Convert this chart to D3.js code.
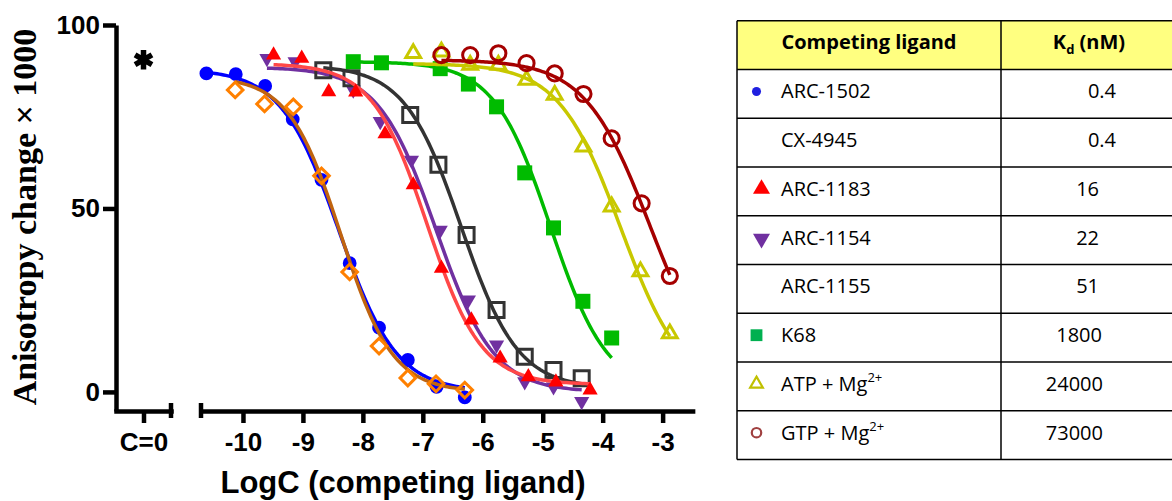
<!DOCTYPE html>
<html>
<head>
<meta charset="utf-8">
<script src="https://cdn.jsdelivr.net/npm/d3@7"></script>
<style>
  body { margin: 0; background: #fff; }
  svg { display: block; }
  .axisText { font-family: "Liberation Sans", Arial, sans-serif; font-weight: bold; fill: #000; }
  .tableText { font-family: "Open Sans", "Noto Sans", sans-serif; fill: #000; }
</style>
</head>
<body>
<script>
// ---------- data ----------
var xTickValues = [-10, -9, -8, -7, -6, -5, -4, -3];
var yTickValues = [0, 50, 100];
var zeroLabel = "C=0";
var zeroValue = 90.5;   // anisotropy without competitor (the asterisk)

var ligandNames = ["ARC-1502", "CX-4945", "ARC-1183", "ARC-1154", "ARC-1155", "K68", "ATP + Mg", "GTP + Mg"];
var ligandSup   = ["", "", "", "", "", "", "2+", "2+"];
var kdValues    = ["0.4", "0.4", "16", "22", "51", "1800", "24000", "73000"];

var arc1502LogC = [-10.61, -10.12, -9.63, -9.17, -8.69, -8.22, -7.73, -7.25, -6.77, -6.30];
var arc1502Y    = [86.8, 86.6, 83.4, 74.3, 57.8, 35.1, 17.5, 8.7, 1.4, -1.5];

var cx4945LogC = [-10.13, -9.64, -9.16, -8.69, -8.22, -7.73, -7.25, -6.78, -6.30];
var cx4945Y    = [82.3, 78.5, 77.7, 58.9, 32.7, 12.5, 3.8, 2.2, 0.5];

var arc1183LogC = [-9.49, -9.02, -8.57, -8.12, -7.63, -7.16, -6.69, -6.19, -5.71, -5.24, -4.78, -4.21];
var arc1183Y    = [91.8, 90.9, 81.8, 81.7, 70.3, 56.4, 33.7, 19.6, 9.2, 4.1, 2.7, 0.5];

var arc1154LogC = [-9.60, -9.13, -8.16, -7.71, -7.19, -6.71, -6.24, -5.77, -5.30, -4.82, -4.35];
var arc1154Y    = [90.9, 90.0, 82.3, 73.7, 63.2, 44.1, 25.1, 12.8, 2.8, 1.4, -2.6];

var arc1155LogC = [-8.66, -8.19, -7.21, -6.74, -6.27, -5.77, -5.30, -4.82, -4.35];
var arc1155Y    = [87.7, 85.5, 75.5, 61.9, 42.8, 22.3, 9.6, 6.0, 3.7];

var k68LogC = [-8.16, -7.69, -6.71, -6.24, -5.77, -5.30, -4.82, -4.33, -3.85];
var k68Y    = [90.0, 89.7, 88.1, 83.9, 77.7, 59.7, 44.7, 24.7, 14.7];

var atpLogC = [-7.16, -6.69, -6.21, -5.74, -5.27, -4.80, -4.32, -3.85, -3.37, -2.88];
var atpY    = [92.3, 92.7, 89.1, 89.1, 85.0, 80.9, 66.8, 50.5, 32.8, 15.9];

var gtpLogC = [-6.69, -6.21, -5.74, -5.27, -4.80, -4.32, -3.85, -3.35, -2.88];
var gtpY    = [91.8, 91.8, 92.3, 89.6, 86.8, 81.2, 69.1, 51.4, 31.6];

// fitted sigmoid curves (top, bottom, logEC50, hill)
var fitTop     = [88, 86, 89.5, 88.5, 89, 90, 89.5, 90.5];
var fitBottom  = [0, 0, 2, 0, 1, 0, 0, 0];
var fitLogEC50 = [-8.40, -8.37, -6.93, -6.78, -6.36, -4.87, -3.70, -3.21];
var fitHill    = [0.9, 1.0, 0.95, 0.9, 0.92, 0.92, 0.84, 0.8];

// ---------- styles ----------
var seriesStyle = [
    {marker: "circle",   fill: "#0000ff", stroke: "none",    line: "#0000ff", size: 150, legend: true},
    {marker: "diamond",  fill: "none",    stroke: "#ff8000", line: "#c0640f", size: 121, legend: false},
    {marker: "triangle", fill: "#ff0000", stroke: "none",    line: "#ff4848", size: 100, legend: true},
    {marker: "triDown",  fill: "#7030a0", stroke: "none",    line: "#7030a0", size: 100, legend: true},
    {marker: "square",   fill: "none",    stroke: "#333333", line: "#333333", size: 225, legend: false},
    {marker: "square",   fill: "#00bb00", stroke: "none",    line: "#00bb00", size: 225, legend: true},
    {marker: "triangle", fill: "none",    stroke: "#c8c800", line: "#c8c800", size: 95,  legend: true},
    {marker: "circle",   fill: "none",    stroke: "#a50000", line: "#a50000", size: 180, legend: true}
];
var legendColor = ["#2020e0", null, "#ff0000", "#7030a0", null, "#00b050", "#c0c000", "#a04040"];
var kdTextRight = [1116, 1116, 1099, 1099, 1099, 1102, 1103, 1103];
var drawOrder = [0, 1, 3, 4, 2, 5, 6, 7];

var allLogC = [arc1502LogC, cx4945LogC, arc1183LogC, arc1154LogC, arc1155LogC, k68LogC, atpLogC, gtpLogC];
var allY    = [arc1502Y, cx4945Y, arc1183Y, arc1154Y, arc1155Y, k68Y, atpY, gtpY];

var series = ligandNames.map(function(name, i) {
    return {
        name: name,
        points: allLogC[i].map(function(x, j) { return {x: x, y: allY[i][j]}; }),
        fit: {top: fitTop[i], bottom: fitBottom[i], ec50: fitLogEC50[i], hill: fitHill[i]},
        style: seriesStyle[i]
    };
});

// ---------- layout ----------
var outerWidth = 1172, outerHeight = 501;
var axisY = 411;        // x axis line
var yAxisX = 116;

var svg = d3.select("body").append("svg")
    .attr("width", outerWidth)
    .attr("height", outerHeight);

var xScale = d3.scaleLinear().domain([-10.7, -2.5]).range([201, 692.6]);
var zeroScale = d3.scalePoint().domain([zeroLabel]).range([yAxisX, 171]).padding(0.5);
var yScale = d3.scaleLinear().domain([-5.2, 100]).range([axisY, 25]);

function symbolFor(style, size) {
    var type = style.marker == "circle" ? d3.symbolCircle
             : (style.marker == "square" || style.marker == "diamond") ? d3.symbolSquare
             : d3.symbolTriangle;
    return d3.symbol().type(type).size(size)();
}
function rotationFor(style) {
    if (style.marker == "diamond") return " rotate(45)";
    if (style.marker == "triDown") return " rotate(180)";
    return "";
}

// ---------- axes ----------
var axisWidth = 4.5;

var yAxis = svg.append("g")
    .attr("transform", "translate(" + yAxisX + ",0)")
    .call(d3.axisLeft(yScale).tickValues(yTickValues).tickSize(13).tickSizeOuter(0).tickPadding(3));

var zeroAxis = svg.append("g")
    .attr("transform", "translate(0," + axisY + ")")
    .call(d3.axisBottom(zeroScale).tickSize(12).tickSizeOuter(0).tickPadding(10));

var xAxis = svg.append("g")
    .attr("transform", "translate(0," + axisY + ")")
    .call(d3.axisBottom(xScale).tickValues(xTickValues).tickSize(12).tickSizeOuter(0).tickPadding(10)
        .tickFormat(function(d) { return d; }));

[yAxis, zeroAxis, xAxis].forEach(function(ax) {
    ax.attr("font-family", null).attr("font-size", null);
    ax.selectAll("path.domain").attr("stroke", "#000").attr("stroke-width", axisWidth).attr("stroke-linecap", "square");
    ax.selectAll(".tick line").attr("stroke", "#000").attr("stroke-width", axisWidth);
    ax.selectAll(".tick text").attr("class", "axisText").attr("font-size", "26px").attr("fill", "#000");
});
yAxis.select("path.domain").attr("stroke-linecap", "butt");

// end caps at the axis break
[zeroScale.range()[1], xScale.range()[0]].forEach(function(x) {
    svg.append("line")
        .attr("x1", x).attr("x2", x)
        .attr("y1", axisY - 8).attr("y2", axisY + 7)
        .attr("stroke", "#000")
        .attr("stroke-width", axisWidth);
});

// axis titles
svg.append("text")
    .attr("class", "axisText")
    .attr("x", 403)
    .attr("y", 493)
    .attr("text-anchor", "middle")
    .attr("font-size", "31px")
    .text("LogC (competing ligand)");

svg.append("text")
    .attr("transform", "translate(36,217) rotate(-90)")
    .attr("text-anchor", "middle")
    .attr("font-family", "'Liberation Serif', 'Times New Roman', serif")
    .attr("font-weight", "bold")
    .attr("font-size", "34px")
    .text("Anisotropy change \u00d7 1000");

// ---------- C=0 point ----------
var asterisk = {
    draw: function(ctx, size) {
        var r = Math.sqrt(size) / 2;
        for (var a = 0; a < 3; a++) {
            var ang = Math.PI / 2 + a * Math.PI / 3;
            ctx.moveTo(r * Math.cos(ang), r * Math.sin(ang));
            ctx.lineTo(-r * Math.cos(ang), -r * Math.sin(ang));
        }
    }
};
svg.append("path")
    .attr("d", d3.symbol().type(asterisk).size(380)())
    .attr("transform", "translate(" + zeroScale(zeroLabel) + "," + yScale(zeroValue) + ")")
    .attr("fill", "none")
    .attr("stroke", "#000")
    .attr("stroke-width", 5.5);

// ---------- curves and points ----------
var curveLine = d3.line()
    .x(function(d) { return xScale(d.x); })
    .y(function(d) { return yScale(d.y); });

function logistic(fit, x) {
    return fit.bottom + (fit.top - fit.bottom) / (1 + Math.pow(10, (x - fit.ec50) * fit.hill));
}

var plot = svg.append("g").attr("class", "plot");

drawOrder.forEach(function(i) {
    var s = series[i];
    var ext = d3.extent(s.points, function(d) { return d.x; });
    var curvePts = d3.range(0, 121).map(function(k) {
        var x = ext[0] + (ext[1] - ext[0]) * k / 120;
        return {x: x, y: logistic(s.fit, x)};
    });

    var grp = plot.append("g").attr("class", "series");

    grp.append("path")
        .attr("d", curveLine(curvePts))
        .attr("fill", "none")
        .attr("stroke", s.style.line)
        .attr("stroke-width", 3.5);

    grp.selectAll(".pt")
        .data(s.points)
        .enter()
        .append("path")
        .attr("class", "pt")
        .attr("d", symbolFor(s.style, s.style.size))
        .attr("transform", function(d) {
            return "translate(" + xScale(d.x) + "," + yScale(d.y) + ")" + rotationFor(s.style);
        })
        .attr("fill", s.style.fill)
        .attr("stroke", s.style.stroke)
        .attr("stroke-width", s.style.stroke == "none" ? 0 : 3);
});

// ---------- Kd table ----------
var tableLeft = 737, tableDivider = 1001, tableRight = 1174;
var tableTop = 20.7, rowHeight = 48.75;
var n = ligandNames.length;
var rowScale = d3.scaleBand().domain(d3.range(n)).range([tableTop + rowHeight, tableTop + rowHeight * (n + 1)]);

var table = svg.append("g").attr("class", "kdTable");

table.append("rect")
    .attr("x", tableLeft)
    .attr("y", tableTop)
    .attr("width", tableRight - tableLeft)
    .attr("height", rowHeight)
    .attr("fill", "#ffff80");

table.selectAll(".hLine")
    .data(d3.range(n + 2))
    .enter()
    .append("line")
    .attr("x1", tableLeft).attr("x2", tableRight)
    .attr("y1", function(d) { return tableTop + d * rowHeight; })
    .attr("y2", function(d) { return tableTop + d * rowHeight; })
    .attr("stroke", "#000")
    .attr("stroke-width", 1.5);

table.selectAll(".vLine")
    .data([tableLeft, tableDivider, tableRight])
    .enter()
    .append("line")
    .attr("x1", function(d) { return d; }).attr("x2", function(d) { return d; })
    .attr("y1", tableTop).attr("y2", tableTop + rowHeight * (n + 1))
    .attr("stroke", "#000")
    .attr("stroke-width", 1.5);

// header
table.append("text")
    .attr("class", "tableText")
    .attr("x", 869)
    .attr("y", tableTop + 28.6)
    .attr("text-anchor", "middle")
    .attr("font-weight", "bold")
    .attr("font-size", "20px")
    .text("Competing ligand");

var kdHead = table.append("text")
    .attr("class", "tableText")
    .attr("x", 1089)
    .attr("y", tableTop + 28.6)
    .attr("text-anchor", "middle")
    .attr("font-weight", "bold")
    .attr("font-size", "20px");
kdHead.append("tspan").text("K");
kdHead.append("tspan").attr("font-size", "13px").attr("dy", 5).text("d");
kdHead.append("tspan").attr("dy", -5).text(" (nM)");

// rows
var rows = table.selectAll(".row")
    .data(series)
    .enter()
    .append("g")
    .attr("class", "row")
    .attr("transform", function(d, i) { return "translate(0," + rowScale(i) + ")"; });

var names = rows.append("text")
    .attr("class", "tableText")
    .attr("x", 781)
    .attr("y", 29)
    .attr("font-size", "20px");
names.append("tspan").text(function(d) { return d.name; });
names.append("tspan")
    .attr("font-size", "13px")
    .attr("dy", -9)
    .text(function(d, i) { return ligandSup[i]; });

rows.append("text")
    .attr("class", "tableText")
    .attr("x", function(d, i) { return kdTextRight[i]; })
    .attr("y", 29)
    .attr("text-anchor", "end")
    .attr("font-size", "20px")
    .text(function(d, i) { return kdValues[i]; });

// legend markers in the table
rows.filter(function(d) { return d.style.legend; })
    .append("path")
    .attr("d", function(d) {
        var sz = d.style.marker == "circle" ? (d.style.fill == "none" ? 70 : 64)
               : d.style.marker == "square" ? 140
               : d.style.fill == "none" ? 70 : 125;
        return symbolFor(d.style, sz);
    })
    .attr("transform", function(d) {
        var x = (d.style.marker == "triangle" && d.style.fill != "none") || d.style.marker == "triDown" ? 761.5 : 756.5;
        var y = d.style.marker == "triDown" ? 23 : 22;
        return "translate(" + x + "," + y + ")" + rotationFor(d.style);
    })
    .attr("fill", function(d) { var i = series.indexOf(d); return d.style.fill == "none" ? "none" : legendColor[i]; })
    .attr("stroke", function(d) { var i = series.indexOf(d); return d.style.fill == "none" ? legendColor[i] : "none"; })
    .attr("stroke-width", 2.2);
</script>
</body>
</html>
